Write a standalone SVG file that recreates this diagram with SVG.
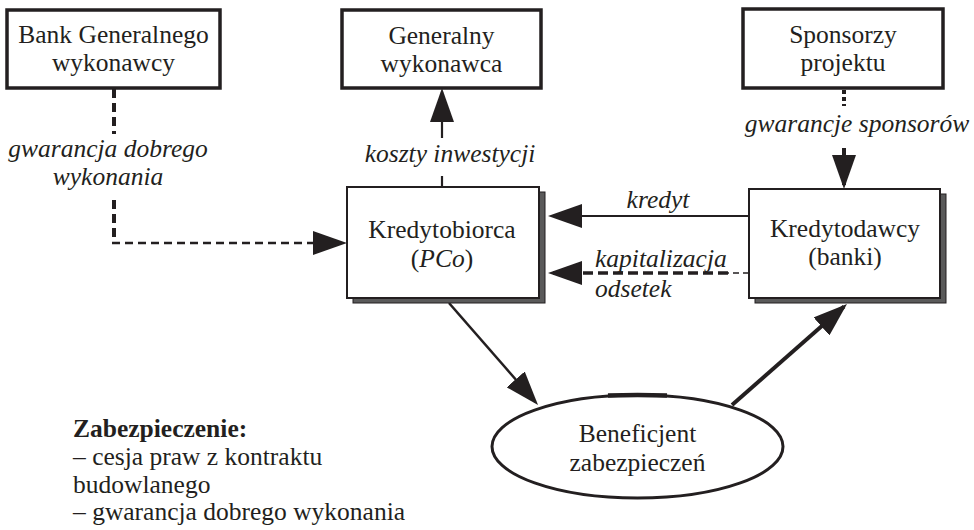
<svg xmlns="http://www.w3.org/2000/svg" width="974" height="530" viewBox="0 0 974 530">
  <defs>
    <marker id="ah" markerUnits="userSpaceOnUse" viewBox="0 0 34 24" markerWidth="34" markerHeight="24" refX="30" refY="12" orient="auto">
      <path d="M0,0 L34,12 L0,24 Z" fill="#231f20"/>
    </marker>
    <style>
      text { font-family: 'Liberation Serif', 'DejaVu Serif', serif; font-size: 25.5px; fill: #231f20; }
      .c { text-anchor: middle; }
      .i { font-style: italic; }
      .b { font-weight: bold; }
      .box { fill: #fff; stroke: #231f20; stroke-width: 3.5; }
      .mbox { fill: #fff; stroke: #231f20; stroke-width: 2; }
      .shadow { fill: #5a5a5a; stroke: #231f20; stroke-width: 1; }
      .ln { fill: none; stroke: #231f20; stroke-linecap: butt; }
    </style>
  </defs>
  <rect width="974" height="530" fill="#fff"/>

  <g font-family="'Liberation Serif', 'DejaVu Serif', serif">
  <!-- connectors -->
  <g id="connectors">
    <!-- koszty inwestycji -->
    <path class="ln" d="M442,187 V176" stroke-width="2.2"/>
    <path class="ln" d="M442,138 V92" stroke-width="2.2" marker-end="url(#ah)"/>
    <text class="i c" x="450" y="162">koszty inwestycji</text>

    <!-- kredyt -->
    <path class="ln" d="M749,216 H552" stroke-width="2.2" marker-end="url(#ah)"/>
    <text class="i c" x="658" y="208">kredyt</text>

    <!-- kapitalizacja odsetek -->
    <path class="ln" d="M749,273 H728" stroke-width="1.6" stroke-dasharray="6 4"/>
    <path class="ln" d="M728,273 H552" stroke-width="3.5" stroke-dasharray="10 5" marker-end="url(#ah)"/>
    <text class="i" x="595" y="267">kapitalizacja</text>
    <text class="i" x="595" y="297">odsetek</text>

    <!-- gwarancja dobrego wykonania -->
    <path class="ln" d="M114,89 V134" stroke-width="4" stroke-dasharray="9 5"/>
    <path class="ln" d="M114,200 V243" stroke-width="4" stroke-dasharray="9 5"/>
    <path class="ln" d="M112,243 H343" stroke-width="2.6" stroke-dasharray="8 5" marker-end="url(#ah)"/>
    <text class="i c" x="108" y="157">gwarancja dobrego</text>
    <text class="i c" x="108" y="185">wykonania</text>

    <!-- gwarancje sponsorów -->
    <path class="ln" d="M844,90 V106" stroke-width="4" stroke-dasharray="4 3"/>
    <path class="ln" d="M844,148 V185" stroke-width="4" marker-end="url(#ah)"/>
    <text class="i c" x="857" y="132">gwarancje sponsorów</text>

    <!-- Kredytobiorca to Beneficjent -->
    <path class="ln" d="M449,303 L535.4,402" stroke-width="2.6" marker-end="url(#ah)"/>
    <!-- Beneficjent to Kredytodawcy -->
    <path class="ln" d="M732,405 L844,306.6" stroke-width="4" marker-end="url(#ah)"/>
  </g>

  <!-- nodes -->
  <g id="bank-gw">
    <rect class="box" x="7" y="10" width="213" height="78"/>
    <text class="c" x="113.5" y="43">Bank Generalnego</text>
    <text class="c" x="113.5" y="71">wykonawcy</text>
  </g>

  <g id="generalny-wykonawca">
    <rect class="box" x="342" y="10" width="199" height="78"/>
    <text class="c" x="441.5" y="44">Generalny</text>
    <text class="c" x="441.5" y="72">wykonawca</text>
  </g>

  <g id="sponsorzy">
    <rect class="box" x="743" y="9" width="200" height="79"/>
    <text class="c" x="843" y="43">Sponsorzy</text>
    <text class="c" x="843" y="71">projektu</text>
  </g>

  <g id="kredytobiorca">
    <rect class="shadow" x="353" y="192" width="192" height="111"/>
    <rect class="mbox" x="347" y="187" width="192" height="111"/>
    <text class="c" x="442" y="238">Kredytobiorca</text>
    <text class="c" x="442" y="267">(<tspan class="i">PCo</tspan>)</text>
  </g>

  <g id="kredytodawcy">
    <rect class="shadow" x="755" y="194" width="191" height="109"/>
    <rect class="mbox" x="749" y="189" width="191" height="109"/>
    <text class="c" x="845" y="237">Kredytodawcy</text>
    <text class="c" x="845" y="265">(banki)</text>
  </g>

  <g id="beneficjent">
    <ellipse cx="637.5" cy="446.5" rx="145.5" ry="51.5" fill="#fff" stroke="#231f20" stroke-width="3"/>
    <path d="M608,395.6 Q637.5,394.6 667,395.6" fill="none" stroke="#231f20" stroke-width="4.5"/>
    <text class="c" x="637.5" y="442">Beneficjent</text>
    <text class="c" x="637.5" y="471">zabezpieczeń</text>
  </g>

  <g id="zabezpieczenie">
    <text class="b" x="73" y="437">Zabezpieczenie:</text>
    <text x="73" y="465">– cesja praw z kontraktu</text>
    <text x="73" y="493">budowlanego</text>
    <text x="73" y="520">– gwarancja dobrego wykonania</text>
  </g>
  </g>
</svg>
